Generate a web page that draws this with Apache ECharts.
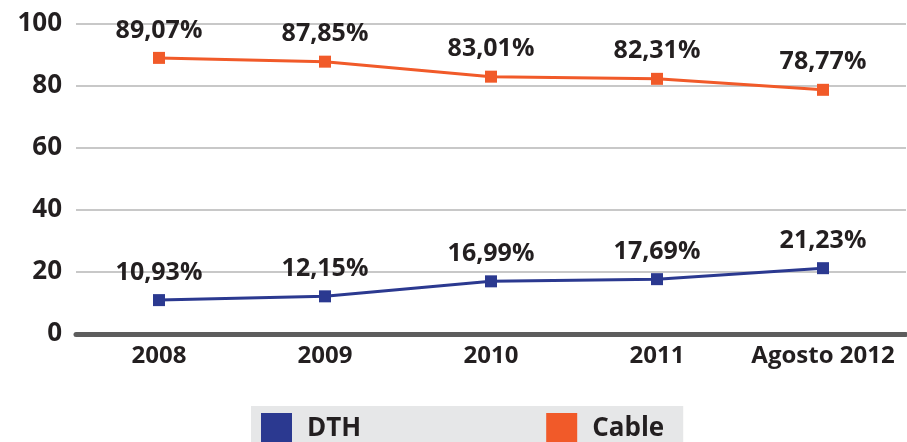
<!DOCTYPE html>
<html>
<head>
<meta charset="utf-8">
<script src="https://cdn.jsdelivr.net/npm/echarts@6/dist/echarts.min.js"></script>
<style>
  html, body { margin: 0; padding: 0; background: #fff; }
  #chart { width: 907px; height: 442px; }
</style>
</head>
<body>
<div id="chart"></div>
<script>
const categories = ['2008', '2009', '2010', '2011', 'Agosto 2012']
const dthValues = [10.93, 12.15, 16.99, 17.69, 21.23]
const cableValues = [89.07, 87.85, 83.01, 82.31, 78.77]
const seriesNames = ['DTH', 'Cable']

const FONT = '"Open Sans", "DejaVu Sans", sans-serif'
const TEXT = '#231f20'

const chart = echarts.init(document.getElementById('chart'))

function pct(p) {
  return p.value.toFixed(2).replace('.', ',') + '%'
}

chart.setOption({
  animation: false,
  grid: { left: 76, right: 1, top: 24, bottom: 108 },
  legend: {
    data: seriesNames,
    left: 251,
    top: 406,
    orient: 'horizontal',
    backgroundColor: '#e6e7e8',
    padding: [7, 19, 20, 10],
    itemWidth: 31,
    itemHeight: 31,
    itemGap: 185,
    icon: 'rect',
    textStyle: {
      fontFamily: FONT,
      fontWeight: 'bold',
      fontSize: 26,
      color: TEXT,
      padding: [6, 0, 0, 10],
    },
  },
  xAxis: {
    type: 'category',
    data: categories,
    boundaryGap: true,
    axisLine: { show: true, lineStyle: { color: '#5d5d5d', width: 5 } },
    axisTick: { show: false },
    axisLabel: {
      interval: 0,
      fontFamily: FONT,
      fontWeight: 'bold',
      fontSize: 24,
      color: TEXT,
      margin: 10,
    },
    splitLine: { show: false },
  },
  yAxis: {
    type: 'value',
    min: 0,
    max: 100,
    interval: 20,
    axisLine: { show: false },
    axisTick: { show: false },
    axisLabel: {
      fontFamily: FONT,
      fontWeight: 'bold',
      fontSize: 26,
      color: TEXT,
      margin: 14,
    },
    splitLine: { show: true, lineStyle: { color: '#c8c8c8', width: 2 } },
  },
  series: [
    {
      name: seriesNames[0],
      type: 'line',
      data: dthValues,
      color: '#2b3990',
      lineStyle: { width: 3 },
      symbol: 'rect',
      symbolSize: 12,
      label: {
        show: true,
        position: 'top',
        distance: 9,
        formatter: pct,
        fontFamily: FONT,
        fontWeight: 'bold',
        fontSize: 25,
        color: TEXT,
      },
    },
    {
      name: seriesNames[1],
      type: 'line',
      data: cableValues,
      color: '#f15a29',
      lineStyle: { width: 3 },
      symbol: 'rect',
      symbolSize: 12,
      label: {
        show: true,
        position: 'top',
        distance: 9,
        formatter: pct,
        fontFamily: FONT,
        fontWeight: 'bold',
        fontSize: 25,
        color: TEXT,
      },
    },
  ],
})
</script>
</body>
</html>
